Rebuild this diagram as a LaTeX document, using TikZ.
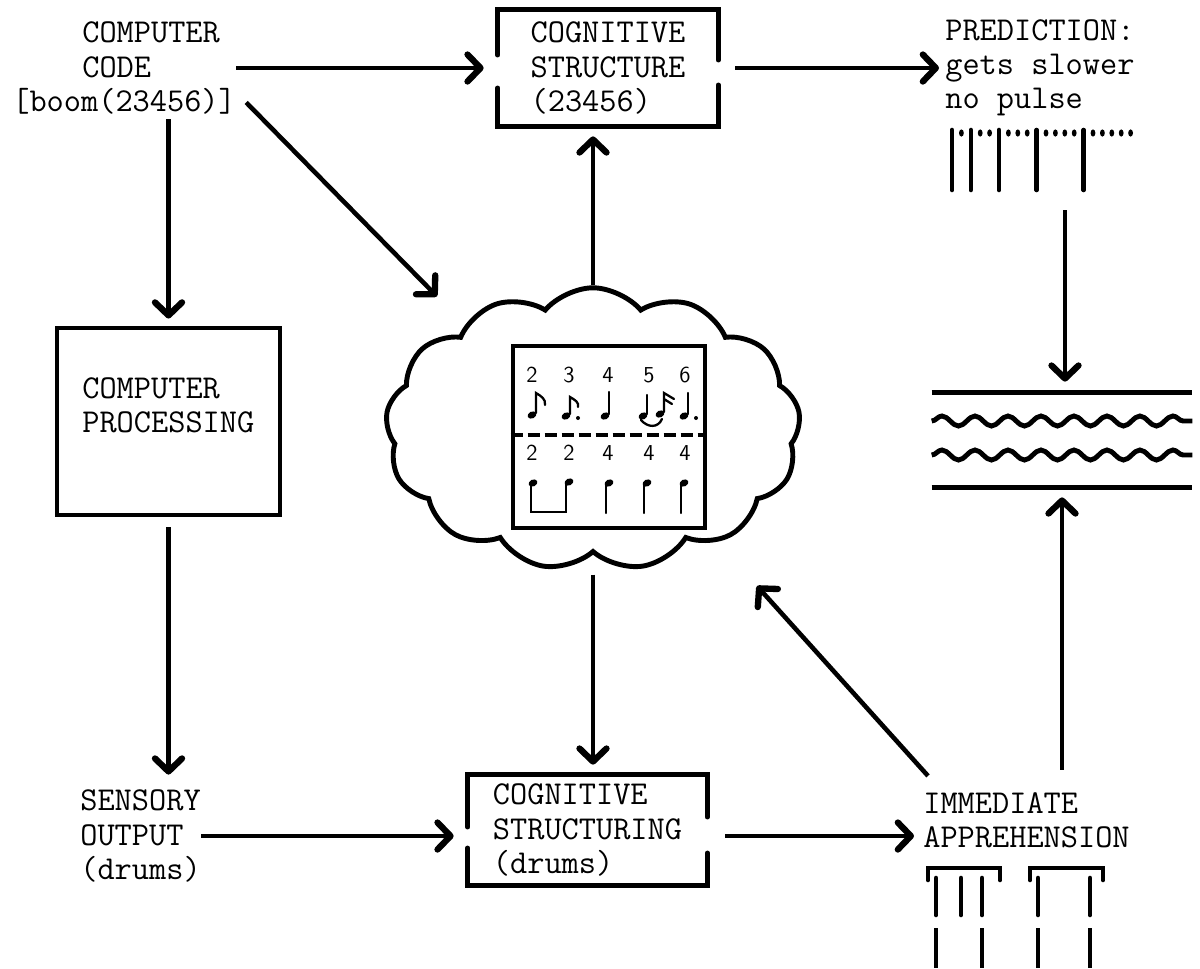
\documentclass[tikz,border=0pt]{standalone}
\usepackage{fontspec}
\usetikzlibrary{arrows.meta,shapes.symbols,decorations.pathmorphing,calc}

\begin{document}
\begin{tikzpicture}[x=0.02cm,y=-0.02cm]
	\newcommand{\lwid}{2.6pt} % width of the arrows
	\newcommand{\bwid}{2.8pt} % width of the box lines
	\newcommand{\pulse}{9.4} % spacing of the predicted pulses
	\newcommand{\nhead}[2]{\fill[rotate around={25:(#1,#2)}] (#1,#2) ellipse (4.6 and 3.4);}

	% styles of texts, arrows and frames
	\tikzset{
		txt/.style={font=\ttfamily\fontsize{19}{19.5}\selectfont, align=left, inner sep=0pt},
		flow/.style={line width=\lwid, -{Straight Barb[length=0.26cm,width=0.54cm,line width=3.6pt,round]}},
		frame/.style={line width=\bwid, line cap=round},
		digit/.style={font=\sffamily\fontsize{13}{15}\selectfont, inner sep=0pt},
		note/.style={line width=1.3pt, line cap=round}
	}

	\useasboundingbox (0,0) rectangle (1200,968);

	% texts and boxes
	\node[txt, anchor=west] (code) at (12,68) {\hspace*{1.4cm}COMPUTER\\\hspace*{1.4cm}CODE\\{}[boom(23456)]};
	\node[txt, minimum width=4.4cm, minimum height=2.32cm] (cs) at (608,68) {COGNITIVE\\STRUCTURE\\(23456)};
	\node[txt, anchor=west] (pred) at (945,68) {PREDICTION:\\gets slower\\no pulse};
	\node[draw, line width=\bwid, minimum width=4.46cm, minimum height=3.74cm, inner sep=0pt] (proc) at (168.5,421.5) {};
	\node[txt, anchor=west] (proctxt) at (82,405) {COMPUTER\\PROCESSING};
	\node[txt, anchor=west] (sens) at (80,836) {SENSORY\\OUTPUT\\(drums)};
	\node[txt, minimum width=4.78cm, minimum height=2.2cm] (cst) at (587.5,830) {COGNITIVE\\STRUCTURING\\(drums)};
	\node[txt, anchor=west] (imm) at (923,820) {IMMEDIATE\\APPREHENSION};
	\node[minimum width=5.2cm, minimum height=1.88cm, inner sep=0pt] (chan) at (1062,440) {};
	\node[cloud, draw, line width=\bwid, cloud puffs=13, cloud puff arc=100, minimum width=8.3cm, minimum height=5.65cm, inner sep=0pt] (cloud) at (593,429) {};
	\node[draw, line width=\bwid, minimum width=3.84cm, minimum height=3.64cm, inner sep=0pt] (score) at (609,437) {};

	% open frames
	\draw[frame] ($(cs.west)+(0,-13)$) -- (cs.north west) -- (cs.north east) -- ($(cs.east)+(0,-8)$);
	\draw[frame] ($(cs.west)+(0,20)$) -- (cs.south west) -- (cs.south east) -- ($(cs.east)+(0,17)$);
	\draw[frame] ($(cst.west)+(0,-3)$) -- (cst.north west) -- (cst.north east) -- ($(cst.east)+(0,-13)$);
	\draw[frame] ($(cst.west)+(0,18)$) -- (cst.south west) -- (cst.south east) -- ($(cst.east)+(0,23)$);

	% lines and waves
	\draw[line width=\lwid] (chan.north west) -- (chan.north east);
	\draw[line width=\lwid] (chan.south west) -- (chan.south east);
	\draw[line width=\bwid, decorate, decoration={snake, segment length=0.66cm, amplitude=0.1cm}] ($(chan.west)+(0,-19)$) -- ($(chan.east)+(0,-19)$);
	\draw[line width=\bwid, decorate, decoration={snake, segment length=0.66cm, amplitude=0.1cm}] ($(chan.west)+(0,15)$) -- ($(chan.east)+(0,15)$);

	% score in the cloud
	\draw[line width=\bwid, dash pattern=on 0.24cm off 0.1cm] ($(score.west)+(0,-2)$) -- ($(score.east)+(0,-2)$);
	\foreach \i/\xx/\ua/\ub in {1/532/2/2, 2/569/3/2, 3/608/4/4, 4/649/5/4, 5/685/6/4} {
		\node[digit] (top\i) at (\xx,375) {\ua};
		\node[digit] (bot\i) at (\xx,453) {\ub};
	}
	% upper notes
	\nhead{532}{415} \draw[note] (536,413) -- (536,393) .. controls (541,396) and (546,399) .. (545,405);
	\nhead{566}{416} \draw[note] (570,414) -- (570,397) .. controls (575,400) and (579,402) .. (578,407);
	\fill (578,418) circle (2);
	\nhead{605}{416} \draw[note] (609,414) -- (609,392);
	\nhead{643}{416} \draw[note] (647,414) -- (647,395);
	\nhead{660}{414} \draw[note] (664,412) -- (664,393) -- (674,399) (664,399) -- (672,404);
	\draw[note] (641,420) .. controls (648,428) and (658,428) .. (662,419);
	\nhead{684}{416} \draw[note] (688,414) -- (688,393);
	\fill (696,418) circle (2);
	% lower notes
	\nhead{533}{483} \nhead{569}{482}
	\draw[note] (531,485) -- (531,512) -- (566,512) -- (566,484);
	\foreach \xx in {609,647,684} {
		\nhead{\xx}{483}
		\draw[note] (\xx-3,485) -- (\xx-3,513);
	}

	% predicted pulses
	\foreach \k in {0,2,5,9,14}
		\draw[line width=\lwid, line cap=round] (952+\k*\pulse,130) -- (952+\k*\pulse,190);
	\foreach \k in {1,3,4,6,7,8,10,11,12,13,15,16,17,18,19}
		\fill (952+\k*\pulse,133) ellipse (2.4 and 3.6);
	\coordinate (predrhy) at (1065,200);

	% apprehended pulses
	\draw[line width=\lwid, line cap=round] (928,880) -- (928,868) -- (1000,868) -- (1000,880);
	\draw[line width=\lwid, line cap=round] (1030,880) -- (1030,868) -- (1103,868) -- (1103,880);
	\foreach \xx in {936,961,982,1038,1090}
		\draw[line width=\lwid, line cap=round] (\xx,878) -- (\xx,915);
	\foreach \xx in {936,982,1038,1090}
		\draw[line width=\lwid] (\xx,928) -- (\xx,968);

	% arrows
	\draw[flow, shorten >=0.28cm] (code.east) -- (code.east -| cs.west);
	\draw[flow, shorten <=0.34cm, shorten >=0.12cm] (cs.east) -- (cs.east -| pred.west);
	\draw[flow, shorten <=0.1cm, shorten >=0.14cm] (code.south -| proc.north) -- (proc.north);
	\draw[flow, shorten <=0.2cm, shorten >=0.3cm] (proc.south) -- (proc.south |- sens.north);
	\draw[flow, shorten >=0.28cm] (sens.east) -- (sens.east -| cst.west);
	\draw[flow, shorten <=0.36cm, shorten >=0.18cm] (cst.east |- sens.east) -- (imm.west |- sens.east);
	\draw[flow, shorten >=0.2cm] (cloud.north) -- (cloud.north |- cs.south);
	\draw[flow, shorten <=0.4cm, shorten >=0.2cm] (cloud.south) -- (cloud.south |- cst.north);
	\draw[flow] ($(code.south east)+(10,-12)$) -- ($(cloud.north west)+(-17,-38)$);
	\draw[flow] ($(imm.north west)+(5,-16)$) -- ($(cloud)+(164,157)$);
	\draw[flow, shorten <=0.2cm, shorten >=0.22cm] (predrhy) -- (predrhy |- chan.north);
	\draw[flow, shorten >=0.2cm] ($(imm.north -| chan)+(0,-22)$) -- (chan.south);
\end{tikzpicture}
\end{document}
